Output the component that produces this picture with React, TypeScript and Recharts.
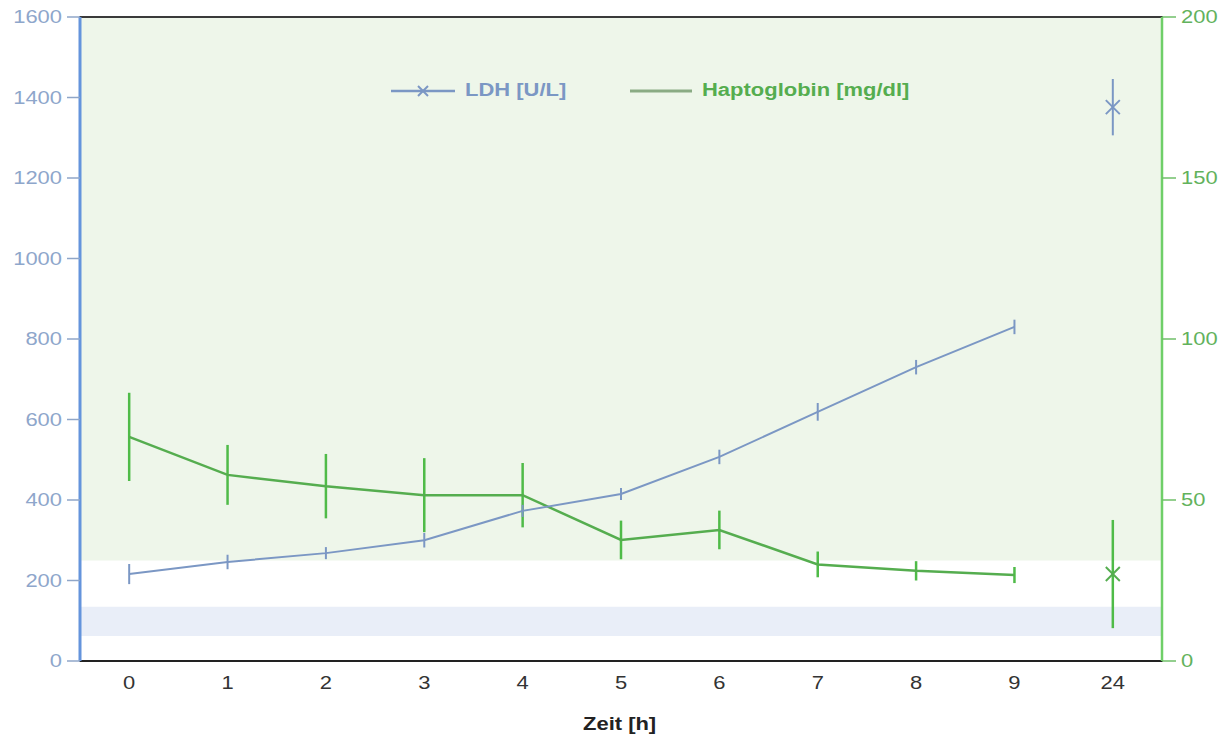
import React from 'react';
import {
    ComposedChart,
    Line,
    XAxis,
    YAxis,
    ErrorBar,
    ReferenceArea,
} from 'recharts';

// time points (h) – 24 h is shown as a separate, unconnected point
const hours = ['0', '1', '2', '3', '4', '5', '6', '7', '8', '9', '24'];
const ldh = [216, 246, 268, 300, 373, 415, 507, 619, 730, 830, 1376];
const ldhErr = [25, 18, 15, 18, 15, 15, 18, 22, 18, 18, 70];
const hapto = [69.6, 57.8, 54.3, 51.5, 51.5, 37.6, 40.7, 30, 28, 26.7, 27];
const haptoErr = [13.7, 9.3, 10, 11.5, 10, 6, 6, 4, 3, 2.5, 16.8];

const ldhTicks = [0, 200, 400, 600, 800, 1000, 1200, 1400, 1600];
const haptoTicks = [0, 50, 100, 150, 200];

// shaded reference bands (LDH scale)
const greenBand = [250, 1600];
const blueBand = [62, 135];

const LATE = '24';

const data = hours.map((t, i) => {
    const late = t === LATE;
    return {
        t,
        ldh: late ? null : ldh[i],
        ldhErr: late ? null : ldhErr[i],
        ldhLate: late ? ldh[i] : null,
        ldhLateErr: late ? ldhErr[i] : null,
        hapto: late ? null : hapto[i],
        haptoErr: late ? null : haptoErr[i],
        haptoLate: late ? hapto[i] : null,
        haptoLateErr: late ? haptoErr[i] : null,
    };
});

const LDH_COLOR = '#7b97c4';
const HAPTO_COLOR = '#55ad4f';
const FONT = '"Liberation Sans", Arial, sans-serif';
const WIDE = 1.22; // horizontal stretch for all lettering

// tick label drawn with a horizontally widened font
function WideTick(fill: string) {
    return (props: any) => {
        const { x, y, payload, textAnchor } = props;
        return (
            <g transform={`translate(${x},${y})`}>
                <text transform={`scale(${WIDE},1)`} textAnchor={textAnchor} dy="0.355em" fill={fill} fontSize={18} fontFamily={FONT}>
                    {payload.value}
                </text>
            </g>
        );
    };
}

function CrossDot(color: string) {
    return (props: any) => {
        const { cx, cy, value } = props;
        if (value == null || cx == null || cy == null) return <g key={props.key} />;
        const s = 7;
        return (
            <g key={props.key}>
                <line x1={cx - s} y1={cy - s} x2={cx + s} y2={cy + s} stroke={color} strokeWidth={2} />
                <line x1={cx - s} y1={cy + s} x2={cx + s} y2={cy - s} stroke={color} strokeWidth={2} />
            </g>
        );
    };
}

const wideText: React.CSSProperties = { display: 'inline-block', transform: `scaleX(${WIDE})`, transformOrigin: 'left center' };

function LegendBox() {
    return (
        <div style={{ position: 'absolute', left: 391, top: 80, display: 'flex', alignItems: 'center', fontFamily: FONT, fontWeight: 'bold', fontSize: 18 }}>
            <svg width={64} height={14} style={{ marginRight: 10 }}>
                <line x1={0} y1={7} x2={64} y2={7} stroke={LDH_COLOR} strokeWidth={2.5} />
                <line x1={27} y1={2} x2={37} y2={12} stroke={LDH_COLOR} strokeWidth={2} />
                <line x1={27} y1={12} x2={37} y2={2} stroke={LDH_COLOR} strokeWidth={2} />
            </svg>
            <span style={{ ...wideText, color: LDH_COLOR, width: 165 }}>LDH [U/L]</span>
            <svg width={62} height={14} style={{ marginRight: 10 }}>
                <line x1={0} y1={7} x2={62} y2={7} stroke="#8aab84" strokeWidth={3} />
            </svg>
            <span style={{ ...wideText, color: HAPTO_COLOR }}>Haptoglobin [mg/dl]</span>
        </div>
    );
}

function AxisTitle() {
    return (
        <div style={{ position: 'absolute', left: 583, top: 714, fontFamily: FONT, fontWeight: 'bold', fontSize: 18, color: '#222' }}>
            <span style={wideText}>Zeit [h]</span>
        </div>
    );
}

export default function App() {
    return (
        <div style={{ position: 'fixed', left: 0, top: 0, width: 1227, height: 739, background: '#fff' }}>
            <ComposedChart width={1227} height={739} data={data} margin={{ top: 17, right: 0, left: 0, bottom: 0 }}>
                <ReferenceArea yAxisId="ldh" y1={greenBand[0]} y2={greenBand[1]} fill="#eef6ea" fillOpacity={1} stroke="none" />
                <ReferenceArea yAxisId="ldh" y1={blueBand[0]} y2={blueBand[1]} fill="#e9eef8" fillOpacity={1} stroke="none" />
                <ReferenceArea yAxisId="ldh" y1={0} y2={1600} fill="none" stroke="#3a3a3a" strokeWidth={2} />

                <XAxis
                    dataKey="t"
                    scale="band"
                    height={78}
                    axisLine={{ stroke: '#222', strokeWidth: 2 }}
                    tickLine={false}
                    tick={WideTick('#333')}
                    tickMargin={16}
                />
                <YAxis
                    yAxisId="ldh"
                    orientation="left"
                    width={80}
                    domain={[0, 1600]}
                    ticks={ldhTicks}
                    interval={0}
                    axisLine={{ stroke: '#6494dc', strokeWidth: 3 }}
                    tickLine={{ stroke: '#8fa6c8', strokeWidth: 1.5 }}
                    tickSize={13}
                    tickMargin={5}
                    tick={WideTick('#8ea6cb')}
                />
                <YAxis
                    yAxisId="hapto"
                    orientation="right"
                    width={65}
                    domain={[0, 200]}
                    ticks={haptoTicks}
                    interval={0}
                    axisLine={{ stroke: '#6fcf68', strokeWidth: 2.5 }}
                    tickLine={{ stroke: '#6fbf68', strokeWidth: 1.5 }}
                    tickSize={14}
                    tickMargin={5}
                    tick={WideTick('#62b25c')}
                />

                <Line yAxisId="hapto" dataKey="hapto" name="Haptoglobin [mg/dl]" stroke={HAPTO_COLOR} strokeWidth={2.5} dot={false} connectNulls={false} isAnimationActive={false}>
                    <ErrorBar dataKey="haptoErr" width={0} stroke="#4fbb48" strokeWidth={2.5} direction="y" />
                </Line>
                <Line yAxisId="hapto" dataKey="haptoLate" stroke="none" dot={CrossDot(HAPTO_COLOR)} legendType="none" isAnimationActive={false}>
                    <ErrorBar dataKey="haptoLateErr" width={0} stroke="#4fbb48" strokeWidth={2.5} direction="y" />
                </Line>
                <Line yAxisId="ldh" dataKey="ldh" name="LDH [U/L]" stroke={LDH_COLOR} strokeWidth={2} dot={false} connectNulls={false} isAnimationActive={false}>
                    <ErrorBar dataKey="ldhErr" width={0} stroke={LDH_COLOR} strokeWidth={2} direction="y" />
                </Line>
                <Line yAxisId="ldh" dataKey="ldhLate" stroke="none" dot={CrossDot(LDH_COLOR)} legendType="none" isAnimationActive={false}>
                    <ErrorBar dataKey="ldhLateErr" width={0} stroke={LDH_COLOR} strokeWidth={2} direction="y" />
                </Line>
            </ComposedChart>
            <LegendBox />
            <AxisTitle />
        </div>
    );
}
